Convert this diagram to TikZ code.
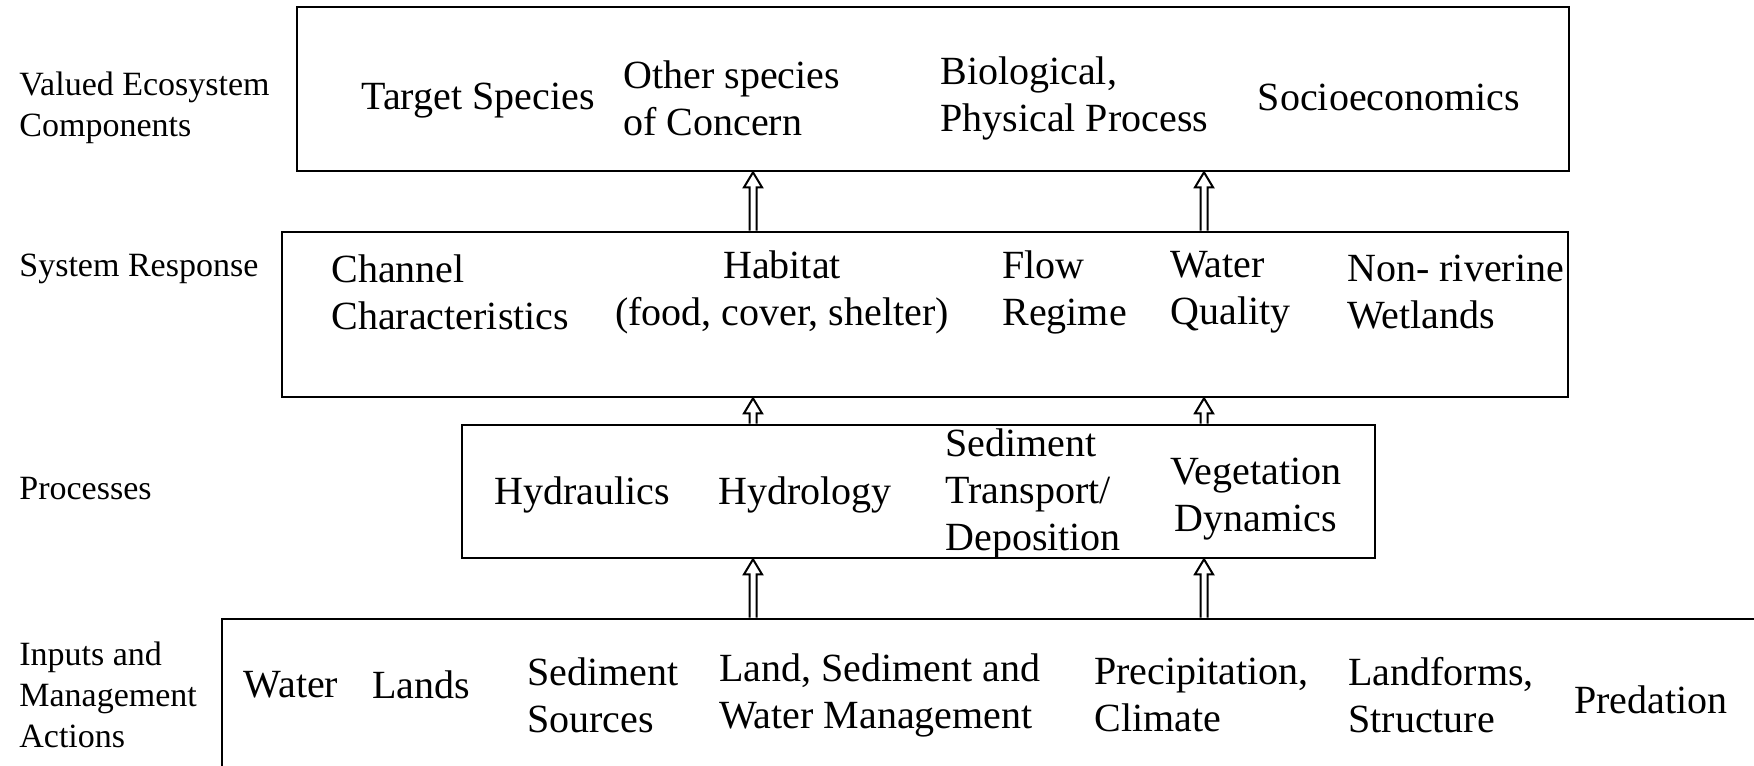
\documentclass[tikz,border=0pt]{standalone}
\usepackage{fontspec}
\setmainfont{Liberation Serif}
\usetikzlibrary{calc,fit}
\tikzset{
  box/.style={draw, line width=1.3pt, inner sep=0pt},
  txt/.style={font=\fontsize{20}{23.5}\selectfont, inner sep=0pt, align=left},
  lab/.style={font=\fontsize{17}{20.5}\selectfont, inner sep=0pt, align=left, anchor=west},
  arr/.style={draw, line width=1pt, fill=white, line join=miter}
}
\newcommand{\blockarrow}[3]{% from node #1 (north) to node #2 (south) at x coordinate #3
  \draw[arr] ($(#1.north -| #3)+(-3.5,0)$) |- ($(#2.south -| #3)+(-9,15)$)
     -- (#2.south -| #3) -- ($(#2.south -| #3)+(9,15)$) -| ($(#1.north -| #3)+(3.5,0)$);
}
\begin{document}
\begin{tikzpicture}[x=0.5pt,y=-0.5pt]
\useasboundingbox (0,0) rectangle (1754,765);
\clip (0,0) rectangle (1754,765);
\fill[white] (0,0) rectangle (1754,765);

% boxes
\node[box, fit={(297,7) (1569,171)}] (vec) {};
\node[box, fit={(282,232) (1568,397)}] (resp) {};
\node[box, fit={(462,425) (1375,558)}] (proc) {};
\node[box, fit={(222,619) (1800,820)}] (inp) {};

% arrow x positions
\coordinate (ax1) at (753,0);
\coordinate (ax2) at (1204,0);

% arrows
\blockarrow{inp}{proc}{ax1}
\blockarrow{inp}{proc}{ax2}
\blockarrow{proc}{resp}{ax1}
\blockarrow{proc}{resp}{ax2}
\blockarrow{resp}{vec}{ax1}
\blockarrow{resp}{vec}{ax2}

% left labels
\node[lab] (l1) at (19,108) {Valued Ecosystem\\Components};
\node[lab] (l2) at (19,269) {System Response};
\node[lab] (l3) at (19,489) {Processes};
\node[lab] (l4) at (19,695) {Inputs and\\Management\\Actions};

% valued ecosystem components
\node[txt] (t1) at (478,101) {Target Species};
\node[txt, anchor=west] (t2) at (623,98) {Other species\\of Concern};
\node[txt, anchor=west] (t3) at (940,98) {Biological,\\Physical Process};
\node[txt] (t4) at (1389,97) {Socioeconomics};

% system response
\node[txt, anchor=west] (r1) at (331,292) {Channel\\Characteristics};
\node[txt, align=center] (r2) at (782,292) {Habitat\\(food, cover, shelter)};
\node[txt, anchor=west] (r3) at (1002,292) {Flow\\Regime};
\node[txt, anchor=west] (r4) at (1170,292) {Water\\Quality};
\node[txt, anchor=west] (r5) at (1347,292) {Non- riverine\\Wetlands};

% processes
\node[txt] (p1) at (582,495) {Hydraulics};
\node[txt] (p2) at (805,495) {Hydrology};
\node[txt, anchor=west] (p3) at (945,494) {Sediment\\Transport/\\Deposition};
\node[txt, align=center] (p4) at (1256,499) {Vegetation\\Dynamics};

% inputs
\node[txt] (i1) at (291,685) {Water};
\node[txt] (i2) at (421,685) {Lands};
\node[txt, anchor=west] (i3) at (527,695) {Sediment\\Sources};
\node[txt, anchor=west] (i4) at (719,695) {Land, Sediment and\\Water Management};
\node[txt, anchor=west] (i5) at (1094,695) {Precipitation,\\Climate};
\node[txt, anchor=west] (i6) at (1348,695) {Landforms,\\Structure};
\node[txt] (i7) at (1651,700) {Predation};
\end{tikzpicture}
\end{document}
